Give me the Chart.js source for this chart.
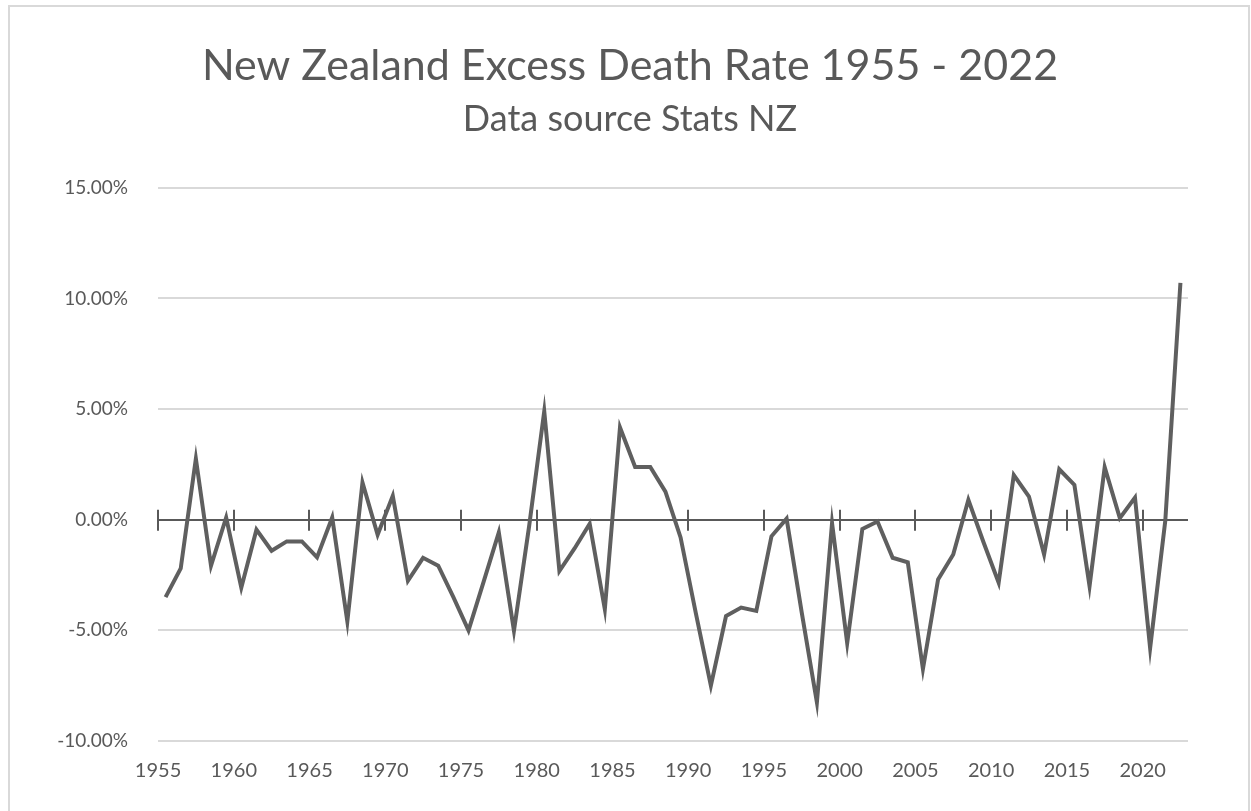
<!DOCTYPE html>
<html>
<head>
<meta charset="utf-8">
<title>New Zealand Excess Death Rate 1955 - 2022</title>
<script src="https://cdn.jsdelivr.net/npm/chart.js@4.4.1/dist/chart.umd.min.js"></script>
<style>
  html, body { margin: 0; padding: 0; background: #fff; overflow: hidden; }
  #wrap { position: relative; width: 1251px; height: 811px; }
  #frame {
    position: absolute; left: 8px; top: 5px; width: 1238px; height: 820px;
    border: 2px solid #d9d9d9; pointer-events: none;
  }
</style>
</head>
<body>
<div id="wrap">
  <canvas id="deathChart" width="1251" height="811"></canvas>
  <div id="frame"></div>
</div>
<script>
/* ── data (percent) ── */
const years = [
  1955, 1956, 1957, 1958, 1959, 1960, 1961, 1962, 1963, 1964,
  1965, 1966, 1967, 1968, 1969, 1970, 1971, 1972, 1973, 1974,
  1975, 1976, 1977, 1978, 1979, 1980, 1981, 1982, 1983, 1984,
  1985, 1986, 1987, 1988, 1989, 1990, 1991, 1992, 1993, 1994,
  1995, 1996, 1997, 1998, 1999, 2000, 2001, 2002, 2003, 2004,
  2005, 2006, 2007, 2008, 2009, 2010, 2011, 2012, 2013, 2014,
  2015, 2016, 2017, 2018, 2019, 2020, 2021, 2022,
];
const excessRate = [
  -3.5, -2.2, 2.76, -2.08, 0.1, -3.07, -0.45, -1.4, -0.98, -0.98,
  -1.7, 0.1, -4.6, 1.68, -0.68, 1.08, -2.76, -1.72, -2.08, -3.5,
  -5.0, -2.8, -0.57, -5.02, -0.3, 4.9, -2.32, -1.3, -0.18, -4.05,
  4.17, 2.38, 2.38, 1.27, -0.8, -4.2, -7.5, -4.35, -3.97, -4.12,
  -0.75, 0.05, -4.2, -8.25, -0.15, -5.58, -0.42, -0.08, -1.72, -1.92,
  -6.75, -2.7, -1.57, 0.9, -1.02, -2.85, 2.02, 1.05, -1.57, 2.28,
  1.57, -3.0, 2.37, 0.07, 1.0, -5.8, -0.05, 10.7,
];
const yTicks = { min: -10, max: 15, step: 5 };

const GREY_TEXT = '#595959';
const FONT = "Lato, 'Open Sans', sans-serif";

/* tick marks across the zero line, at every 5th category boundary */
const zeroTicks = {
  id: 'zeroTicks',
  beforeDatasetsDraw(chart) {
    const x = chart.scales.x, y = chart.scales.y;
    const y0 = y.getPixelForValue(0);
    const half = (x.getPixelForValue(1) - x.getPixelForValue(0)) / 2;
    const ctx = chart.ctx;
    ctx.save();
    ctx.strokeStyle = '#595959';
    ctx.lineWidth = 2;
    years.forEach((yr, i) => {
      if (yr % 5 !== 0) return;
      const px = Math.round(x.getPixelForValue(i) - half);
      ctx.beginPath();
      ctx.moveTo(px, y0 - 10);
      ctx.lineTo(px, y0 + 11);
      ctx.stroke();
    });
    ctx.restore();
  },
};

new Chart(document.getElementById('deathChart'), {
  type: 'line',
  data: {
    labels: years,
    datasets: [{
      label: 'Excess death rate',
      data: excessRate,
      borderColor: '#5f5f5f',
      borderWidth: 4,
      pointRadius: 0,
      tension: 0,
      fill: false,
    }],
  },
  options: {
    responsive: false,
    animation: false,
    layout: { padding: { top: 40, right: 0, bottom: 0, left: 9 } },
    plugins: {
      legend: { display: false },
      tooltip: { enabled: false },
      title: {
        display: true,
        text: 'New Zealand Excess Death Rate 1955 - 2022',
        color: GREY_TEXT,
        font: { family: FONT, size: 43, weight: 'normal', lineHeight: 1.2 },
        padding: { top: 0, bottom: 6 },
      },
      subtitle: {
        display: true,
        text: 'Data source Stats NZ',
        color: GREY_TEXT,
        font: { family: FONT, size: 36, weight: 'normal', lineHeight: 1.2 },
        padding: { top: 0, bottom: 47 },
      },
    },
    scales: {
      x: {
        type: 'category',
        offset: true,
        grid: { display: false, drawTicks: false },
        border: { display: false },
        ticks: {
          autoSkip: false, minRotation: 0, maxRotation: 0, padding: 18,
          labelOffset: -7.5,
          color: GREY_TEXT,
          font: { family: FONT, size: 20 },
          callback: function (v, i) { return years[i] % 5 === 0 ? String(years[i]) : ''; },
        },
        afterFit: s => { s.height = 70; },
      },
      y: {
        min: yTicks.min, max: yTicks.max,
        grid: {
          drawTicks: false,
          color: c => c.tick.value === 0 ? '#595959' : '#d9d9d9',
          lineWidth: 2,
        },
        border: { display: false },
        ticks: {
          stepSize: yTicks.step, padding: 30,
          color: GREY_TEXT,
          font: { family: FONT, size: 19 },
          callback: v => v.toFixed(2) + '%',
        },
        afterFit: s => { s.width = 149; },
      },
      /* empty right-hand margin so the titles stay centred on the page */
      yRight: {
        position: 'right',
        display: true,
        grid: { display: false, drawTicks: false },
        border: { display: false },
        ticks: { display: false },
        afterFit: s => { s.width = 63; },
      },
    },
  },
  plugins: [zeroTicks],
});
</script>
</body>
</html>
